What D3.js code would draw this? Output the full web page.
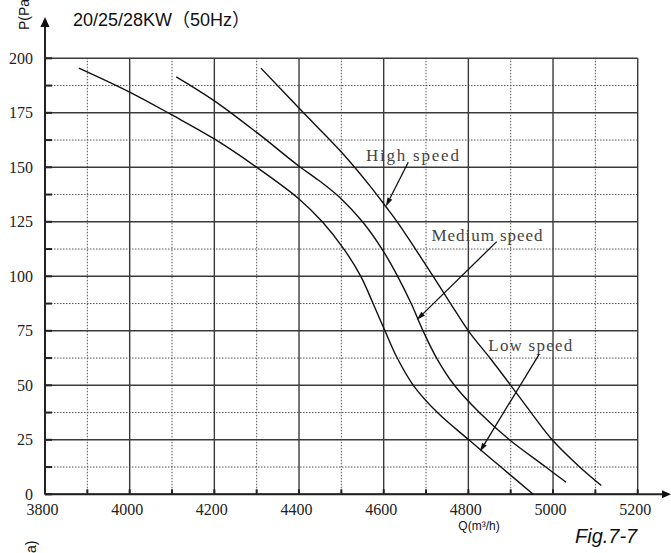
<!DOCTYPE html>
<html>
<head>
<meta charset="utf-8">
<script src="https://cdn.jsdelivr.net/npm/d3@7"></script>
<style>
  body { margin: 0; background: #fff; }
  svg { display: block; }
  .sans { font-family: "Liberation Sans", Arial, "Noto Sans CJK SC", sans-serif; fill: #111; }
</style>
</head>
<body>
<div class="chart"></div>
<script>

// data: [Q (m3/h), P (Pa)]
var lowSpeed = [
  [3880, 195.5], [4000, 184.5], [4100, 174], [4200, 163], [4300, 150],
  [4400, 135.5], [4455, 125], [4506, 112.5], [4546, 100], [4575, 87.5],
  [4603, 75], [4632, 62.5], [4670, 50], [4727, 37.5], [4801, 25],
  [4877, 12.5], [4953, 0]
];
var mediumSpeed = [
  [4110, 191.5], [4200, 180.5], [4300, 166], [4400, 150.5], [4450, 143.5],
  [4500, 135.5], [4550, 125], [4596, 112.5], [4633, 100], [4665, 87.5],
  [4693, 75], [4725, 62.5], [4767, 50], [4826, 37.5], [4897, 25],
  [4983, 12.5], [5031, 5.5]
];
var highSpeed = [
  [4310, 195.5], [4402, 176.7], [4500, 157], [4567, 141.6], [4605, 132],
  [4632, 125], [4675, 112.5], [4717, 100], [4758, 87.5], [4800, 75],
  [4851, 62.5], [4900, 50], [4948, 37.5], [4998, 25], [5063, 12.5], [5114, 4]
];

// axis ticks
var qTicks = [3800, 4000, 4200, 4400, 4600, 4800, 5000, 5200];
var qMinor = [3900, 4100, 4300, 4500, 4700, 4900, 5100];
var pTicks = [0, 25, 50, 75, 100, 125, 150, 175, 200];
var pMinor = [12.5, 37.5, 62.5, 87.5, 112.5, 137.5, 162.5, 187.5];

// curve labels: text anchor, arrow start, arrow tip (data coords)
var labelNames = ["High speed", "Medium speed", "Low speed"];
var labelAt = [[4558, 153], [4713, 116.3], [4847, 65.7]];
var arrowFrom = [[4658, 152.3], [4867, 115.9], [4967, 64.2]];
var arrowTo = [[4605, 132], [4678, 80], [4827, 19.5]];

// dimensions
var W = 671, H = 553;
var margin = {top: 58.3, left: 45};
var plotW = 592.7, plotH = 436;
var serif = '"Liberation Serif", "Times New Roman", serif';

var x = d3.scaleLinear().domain([3800, 5200]).range([margin.left, margin.left + plotW]);
var y = d3.scaleLinear().domain([0, 200]).range([margin.top + plotH, margin.top]);

var svg = d3.select(".chart")
  .append("svg")
  .attr("width", W)
  .attr("height", H);

// minor grid (dotted)
svg.append("g").selectAll("line")
  .data(qMinor).enter().append("line")
  .attr("x1", function(d) { return x(d); }).attr("x2", function(d) { return x(d); })
  .attr("y1", y(0)).attr("y2", y(200))
  .attr("stroke", "#555").attr("stroke-width", 1).attr("stroke-dasharray", "1.5,1.5");
svg.append("g").selectAll("line")
  .data(pMinor).enter().append("line")
  .attr("y1", function(d) { return y(d); }).attr("y2", function(d) { return y(d); })
  .attr("x1", x(3800)).attr("x2", x(5200))
  .attr("stroke", "#555").attr("stroke-width", 1).attr("stroke-dasharray", "1.5,1.5");

// major grid
svg.append("g").selectAll("line")
  .data(qTicks).enter().append("line")
  .attr("x1", function(d) { return x(d); }).attr("x2", function(d) { return x(d); })
  .attr("y1", y(0)).attr("y2", y(200))
  .attr("stroke", "#3a3a3a").attr("stroke-width", 1.4);
svg.append("g").selectAll("line")
  .data(pTicks).enter().append("line")
  .attr("y1", function(d) { return y(d); }).attr("y2", function(d) { return y(d); })
  .attr("x1", x(3800)).attr("x2", x(5200))
  .attr("stroke", "#3a3a3a").attr("stroke-width", 1.4);

// small inner ticks on the axes
svg.append("g").selectAll("line")
  .data(qTicks.concat(qMinor)).enter().append("line")
  .attr("x1", function(d) { return x(d); }).attr("x2", function(d) { return x(d); })
  .attr("y1", y(0)).attr("y2", y(0) - 5)
  .attr("stroke", "#222").attr("stroke-width", 2);
svg.append("g").selectAll("line")
  .data(pTicks.concat(pMinor)).enter().append("line")
  .attr("y1", function(d) { return y(d); }).attr("y2", function(d) { return y(d); })
  .attr("x1", x(3800)).attr("x2", x(3800) + 7)
  .attr("stroke", "#222").attr("stroke-width", 2);

// axes with arrows
svg.append("line")
  .attr("x1", x(3800)).attr("x2", 664).attr("y1", y(0)).attr("y2", y(0))
  .attr("stroke", "#222").attr("stroke-width", 2);
svg.append("path")
  .attr("d", "M671," + y(0) + "L662," + (y(0) - 4) + "L662," + (y(0) + 4) + "Z")
  .attr("fill", "#111");
svg.append("line")
  .attr("x1", x(3800)).attr("x2", x(3800)).attr("y1", y(0)).attr("y2", 25)
  .attr("stroke", "#222").attr("stroke-width", 2);
svg.append("path")
  .attr("d", "M" + x(3800) + ",17L" + (x(3800) - 4.5) + ",27L" + (x(3800) + 4.5) + ",27Z")
  .attr("fill", "#111");

// tick labels
svg.append("g")
  .attr("transform", "translate(-3," + (y(0) + 6.5) + ")")
  .call(d3.axisBottom(x).tickValues(qTicks).tickSize(0).tickFormat(d3.format("d")))
  .call(function(g) { g.select(".domain").remove(); })
  .selectAll("text")
  .style("font-family", serif)
  .style("font-size", "16px")
  .attr("fill", "#222");
svg.append("g")
  .attr("transform", "translate(" + (x(3800) - 12) + ",0)")
  .call(d3.axisLeft(y).tickValues(pTicks).tickSize(0).tickPadding(0))
  .call(function(g) { g.select(".domain").remove(); })
  .selectAll("text")
  .style("font-family", serif)
  .style("font-size", "16px")
  .attr("fill", "#222");

// curves
var line = d3.line()
  .x(function(d) { return x(d[0]); })
  .y(function(d) { return y(d[1]); })
  .curve(d3.curveCatmullRom.alpha(0.5));

[lowSpeed, mediumSpeed, highSpeed].forEach(function(s) {
  svg.append("path")
    .datum(s)
    .attr("d", line)
    .attr("fill", "none")
    .attr("stroke", "#111")
    .attr("stroke-width", 1.4);
});

// curve labels and arrows
var labelWidths = [93, 111, 84];
labelNames.forEach(function(name, i) {
  svg.append("text")
    .attr("x", x(labelAt[i][0]))
    .attr("y", y(labelAt[i][1]))
    .attr("textLength", labelWidths[i])
    .attr("lengthAdjust", "spacing")
    .style("font-family", serif)
    .style("font-size", "17px")
    .attr("fill", "#444")
    .text(name);

  var x0 = x(arrowFrom[i][0]), y0 = y(arrowFrom[i][1]);
  var x1 = x(arrowTo[i][0]), y1 = y(arrowTo[i][1]);
  var a = Math.atan2(y1 - y0, x1 - x0);
  var len = 9, half = 2.6;
  var bx = x1 - len * Math.cos(a), by = y1 - len * Math.sin(a);
  svg.append("line")
    .attr("x1", x0).attr("y1", y0).attr("x2", bx).attr("y2", by)
    .attr("stroke", "#111").attr("stroke-width", 1.3);
  svg.append("path")
    .attr("d", "M" + x1 + "," + y1 +
      "L" + (bx + half * Math.sin(a)) + "," + (by - half * Math.cos(a)) +
      "L" + (bx - half * Math.sin(a)) + "," + (by + half * Math.cos(a)) + "Z")
    .attr("fill", "#111");
});

// title
svg.append("text")
  .attr("class", "sans")
  .attr("x", 73)
  .attr("y", 26)
  .style("font-size", "18px")
  .text("20/25/28KW（50Hz）");

// y label, cut at the top and wrapped at the bottom like the scan
svg.append("text")
  .attr("class", "sans")
  .attr("transform", "translate(28.5,30) rotate(-90)")
  .style("font-size", "14px")
  .text("P(Pa");
svg.append("text")
  .attr("class", "sans")
  .attr("transform", "translate(36,553) rotate(-90)")
  .style("font-size", "14px")
  .text("a)");

// x label
svg.append("text")
  .attr("class", "sans")
  .attr("x", 479)
  .attr("y", 530)
  .attr("text-anchor", "middle")
  .style("font-size", "12px")
  .text("Q(m³/h)");

// figure number
svg.append("text")
  .attr("class", "sans")
  .attr("x", 575)
  .attr("y", 543)
  .style("font-size", "20px")
  .style("font-style", "italic")
  .text("Fig.7-7");

</script>
</body>
</html>
